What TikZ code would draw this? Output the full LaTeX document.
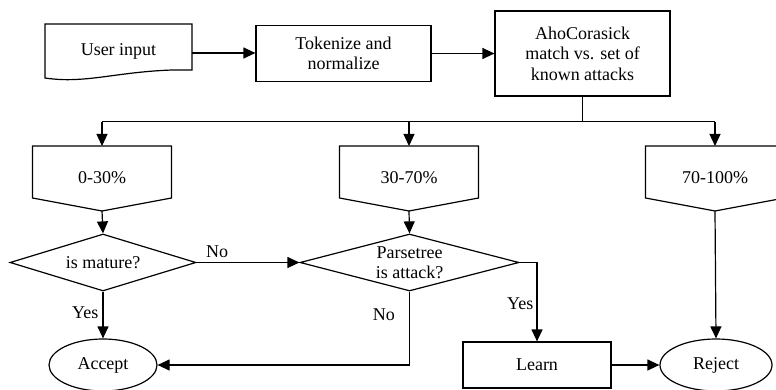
\documentclass[tikz,border=0pt]{standalone}
\usepackage{fontspec}
\setmainfont{Liberation Serif}
\usetikzlibrary{arrows.meta,shapes.geometric}
\begin{document}
\begin{tikzpicture}[x=1pt,y=-1pt,
  every node/.style={font=\fontsize{18}{20.5}\selectfont, align=center, inner sep=0pt},
  ln/.style={line width=1.2pt, line join=miter},
  arr/.style={ln, -{Triangle[length=12pt,width=11pt]}},
  box/.style={draw, ln, rectangle},
  dia/.style={draw, ln, diamond},
  ell/.style={draw, ln, ellipse},
  lbl/.style={font=\fontsize{18}{20.5}\selectfont}]
\useasboundingbox (0,0) rectangle (776,390);
\clip (0,0) rectangle (776,390);

% document shape (user input)
\draw[ln] (45,24) -- (192,24) -- (192,70) -- (172,70)
  .. controls (115,72) and (85,84) .. (45,78) -- cycle;
\node (user) at (118.5,51) {User input};
\coordinate (userE) at (192,53);

\node[box, minimum width=175pt, minimum height=56pt] (tok) at (343.5,53.5) {Tokenize and\\normalize};
\node[box, minimum width=175pt, minimum height=85pt] (aho) at (582.5,53.5) {AhoCorasick\\match vs. set of\\known attacks};

\draw[arr] (userE) -- (userE -| tok.west);
\draw[arr] (tok.east) -- (tok.east -| aho.west);

% off-page pentagons
\foreach \c/\n in {102/p1, 409/p2, 715/p3}{
  \draw[ln] (\c-69.5,146) -- (\c+69.5,146) -- (\c+69.5,198) -- (\c,211) -- (\c-69.5,198) -- cycle;
  \coordinate (\n t) at (\c,146);
  \coordinate (\n b) at (\c,211);
}
\node (p1) at (102,178) {0-30\%};
\node (p2) at (409,178) {30-70\%};
\node (p3) at (715,178) {70-100\%};

% bus
\draw[ln] (aho.south) -- ++(0,25) coordinate (bus);
\draw[ln] (p1t |- bus) -- (p3t |- bus);
\draw[arr] (p1t |- bus) -- (p1t);
\draw[arr] (p2t |- bus) -- (p2t);
\draw[arr] (p3t |- bus) -- (p3t);

% decisions
\node[dia, shape aspect=3.26, minimum width=186pt, minimum height=57pt] (d1) at (103,262.5) {is mature?};
\node[dia, shape aspect=3.84, minimum width=219pt, minimum height=57pt] (d2) at (409.5,262.5) {Parsetree\\is attack?};

\node[ell, minimum width=108pt, minimum height=52pt] (acc) at (103,365) {Accept};
\node[ell, minimum width=112pt, minimum height=52pt] (rej) at (716,365) {Reject};
\node[box, minimum width=148pt, minimum height=46pt] (learn) at (537,365) {Learn};

\draw[arr] (p1b) -- (d1.north);
\draw[arr] (p2b) -- (d2.north);
\draw[arr] (p3b) -- (rej.north);

\draw[arr] (d1.east) -- node[lbl, pos=0.2, above=4pt] {No} (d2.west);
\draw[arr] (d1.south) -- node[lbl, pos=0.45, left=4pt] {Yes} (acc.north);
\draw[arr] (d2.south) |- node[lbl, pos=0.16, left=14pt] {No} (acc.east);
\draw[arr] (d2.east) -| node[lbl, pos=0.76, left=3pt] {Yes} (learn.north);
\draw[arr] (learn.east) -- (rej.west);
\end{tikzpicture}
\end{document}
